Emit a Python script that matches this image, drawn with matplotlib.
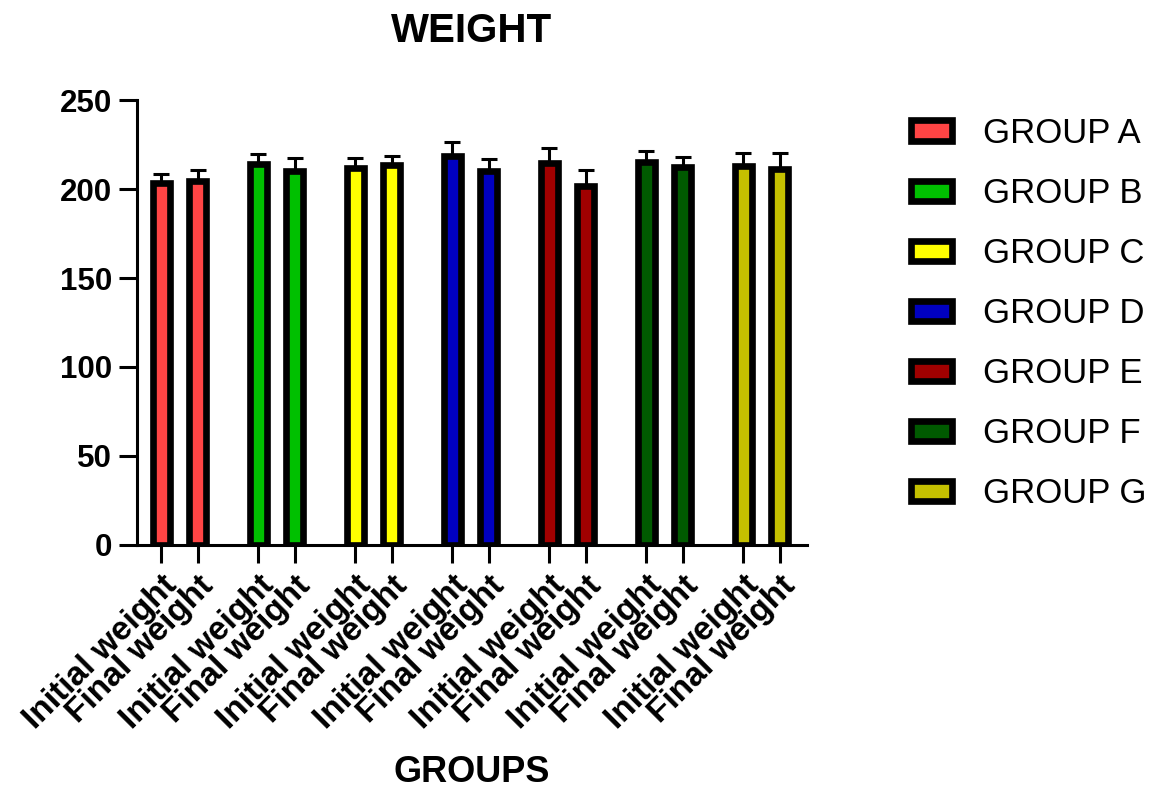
import matplotlib
matplotlib.use("Agg")
import matplotlib.pyplot as plt
import numpy as np

plt.rcParams['font.family'] = ['Liberation Sans', 'DejaVu Sans']

# data
groups = ["GROUP A", "GROUP B", "GROUP C", "GROUP D", "GROUP E", "GROUP F", "GROUP G"]
labels = ["Initial weight", "Final weight"]
initial = [203.5, 214.2, 211.6, 218.7, 214.8, 215.3, 212.9]
final = [204.6, 210.3, 213.6, 210.3, 201.9, 212.1, 211.4]
initial_err = [4.9, 5.5, 5.6, 7.7, 8.1, 6.0, 7.3]
final_err = [6.2, 7.3, 5.1, 6.7, 8.6, 6.1, 8.7]
colors = ["#FF4444", "#00C000", "#FFFF00", "#0000C0", "#A00000", "#005A00", "#C4C000"]

fig = plt.figure(figsize=(11.53, 7.92), dpi=100)
ax = fig.add_axes([0.1188, 0.3119, 0.5811, 0.5618])

gap = 2.66
width = 0.466
xs = []
ticklabels = []
handles = []
for i in range(len(groups)):
    x0 = i * gap
    h = ax.bar([x0, x0 + 1], [initial[i], final[i]], width=width,
               color=colors[i], edgecolor="black", linewidth=4.8, zorder=3,
               label=groups[i])
    handles.append(h)
    ax.errorbar([x0, x0 + 1], [initial[i], final[i]],
                yerr=[initial_err[i], final_err[i]], fmt="none",
                ecolor="black", elinewidth=2.2, capsize=6, capthick=2.2, zorder=2)
    xs += [x0, x0 + 1]
    ticklabels += labels

ax.set_xlim(-0.66, 17.7)
ax.set_ylim(0, 250)
ax.set_yticks([0, 50, 100, 150, 200, 250])
ax.set_xticks(xs)
ax.set_xticklabels(ticklabels, rotation=45, ha="right", va="top",
                   rotation_mode="anchor", fontsize=24, fontweight="bold")
for t in ax.get_yticklabels():
    t.set_fontsize(22.5)
    t.set_fontweight("bold")

for s in ["top", "right"]:
    ax.spines[s].set_visible(False)
for s in ["left", "bottom"]:
    ax.spines[s].set_linewidth(2.2)
ax.tick_params(axis="both", width=2.2, length=13, pad=5)
ax.tick_params(axis="y", pad=5)

ax.set_title("WEIGHT", fontsize=29, fontweight="bold", pad=42)
ax.set_xlabel("GROUPS", fontsize=26, fontweight="bold", labelpad=14)

fig.legend(handles=handles, labels=groups, loc="upper left",
           bbox_to_anchor=(0.778, 0.87), frameon=False, fontsize=25,
           handlelength=1.18, handleheight=0.52, handletextpad=0.9,
           labelspacing=0.78, borderaxespad=0)

fig.savefig("out.png", dpi=100)
